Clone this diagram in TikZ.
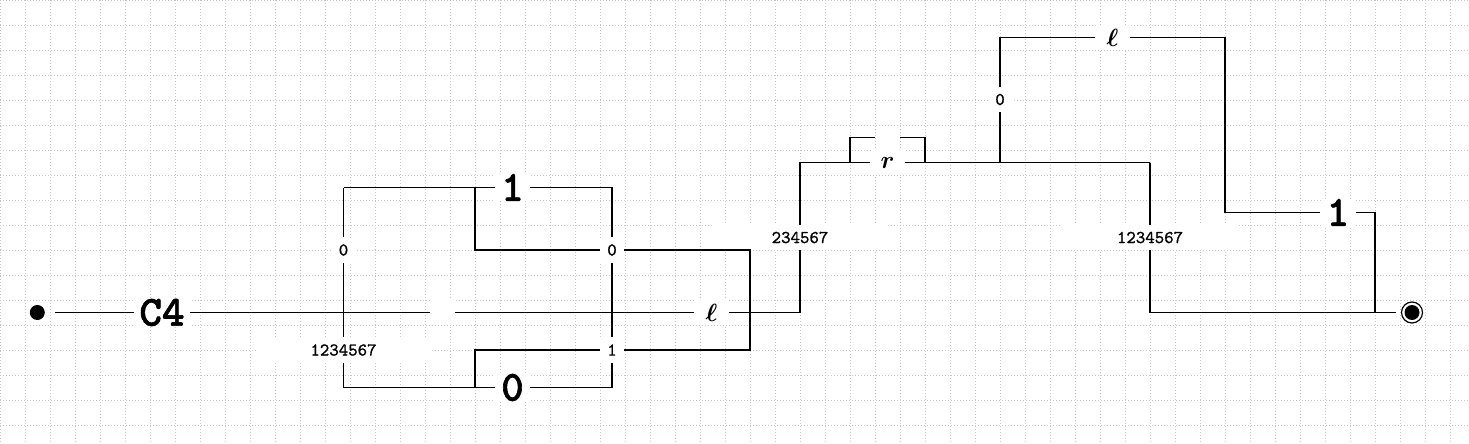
\documentclass[tikz,border=0pt]{standalone}
\usepackage{fontspec}
\newfontfamily\bigttfont{lmmonolt10-bold.otf}[FakeBold=1.5]
\newfontfamily\smallttfont{lmmono10-regular.otf}[FakeBold=1]
\begin{document}
\begin{tikzpicture}[x=1pt,y=-1pt,
  gridline/.style={draw=black!22, line width=1pt, dash pattern=on 1pt off 2pt},
  wire/.style={line width=1.3pt},
  lab/.style={fill=white, inner sep=0pt, minimum width=24pt, minimum height=25pt, font={\fontsize{18}{20}\selectfont\smallttfont}},
  widelab/.style={lab, minimum width=176pt},
  bigl/.style={fill=white, inner sep=0pt, minimum width=35pt, minimum height=25pt, font={\fontsize{43}{48}\selectfont\bigttfont}},
  syml/.style={fill=white, inner sep=0pt, minimum width=34pt, minimum height=25pt, font={\fontsize{28}{30}\selectfont\boldmath}},
  startdot/.style={circle, fill=black, inner sep=0pt, minimum size=15pt},
  enddot/.style={circle, draw, line width=1.2pt, inner sep=0pt, minimum size=21pt,
    path picture={\fill (path picture bounding box.center) circle[radius=7.5pt];}},
]
\useasboundingbox (0,0) rectangle (1469,444);
\fill[white] (0,0) rectangle (1469,444);
% grid (25 units)
\foreach \x in {0,25,...,1450} \draw[gridline] (\x+0.5,0) -- (\x+0.5,444);
\foreach \y in {0,25,...,425} \draw[gridline] (0,\y+0.5) -- (1469,\y+0.5);

% nodes
\node[startdot] (start) at (37.3,312.5) {};
\node[bigl, minimum width=55pt] (c4) at (162,312.5) {C4};
\node[fill=white, inner sep=0pt, minimum width=25pt, minimum height=25pt] (e1) at (442.5,312.5) {};
\node[syml] (l1) at (711.5,312.5) {$\ell$};
\node[widelab] (lab234) at (800,237.5) {234567};
\node[syml] (r) at (887.5,162.5) {$r$};
\node[lab] (lab0t) at (1000,99.5) {0};
\node[syml] (l2) at (1112.5,37.5) {$\ell$};
\node[bigl] (one2) at (1338,212.5) {1};
\node[widelab] (lab1234r) at (1150,237.5) {1234567};
\node[enddot] (end) at (1412,312.5) {};

\node[lab] (lab0a) at (343.5,250) {0};
\node[widelab] (lab1234l) at (343.5,350) {1234567};
\node[bigl] (one1) at (512.5,187.5) {1};
\node[bigl] (zero) at (512.5,387.5) {0};
\node[lab] (lab0b) at (612,250) {0};
\node[lab] (lab1b) at (612,350) {1};

% coordinates
\coordinate (p1) at (800,312.5);
\coordinate (p2) at (800,162.5);
\coordinate (b1) at (850,162.5);
\coordinate (b2) at (850,137.5);
\coordinate (bl) at (875,137.5);
\coordinate (br) at (900,137.5);
\coordinate (b3) at (925,137.5);
\coordinate (b4) at (925,162.5);
\coordinate (j1) at (1000,162.5);
\coordinate (j2) at (1150,162.5);
\coordinate (t1) at (1000,37.5);
\coordinate (t2) at (1225,37.5);
\coordinate (t3) at (1225,212.5);
\coordinate (t4) at (1375,212.5);
\coordinate (t5) at (1375,312.5);
\coordinate (q1) at (1150,312.5);
\coordinate (a1) at (343.5,187.5);
\coordinate (a2) at (343.5,387.5);
\coordinate (d1) at (612,187.5);
\coordinate (d2) at (612,387.5);
\coordinate (m1) at (475,187.5);
\coordinate (m2) at (475,250);
\coordinate (m3) at (750,250);
\coordinate (m4) at (750,350);
\coordinate (m5) at (475,350);
\coordinate (m6) at (475,387.5);

% main line
\draw[wire, shorten <=10pt] (start) -- (c4);
\draw[wire] (c4) -- (e1);
\draw[wire] (e1) -- (l1);
\draw[wire] (l1) -- (p1) -- (lab234);
\draw[wire] (lab234) -- (p2) -- (r);
\draw[wire] (b1) -- (b2) -- (bl);
\draw[wire] (br) -- (b3) -- (b4);
\draw[wire] (r) -- (j2);
\draw[wire] (j1) -- (lab0t);
\draw[wire] (lab0t) -- (t1) -- (l2);
\draw[wire] (l2) -- (t2) -- (t3) -- (one2);
\draw[wire] (one2) -- (t4) -- (t5);
\draw[wire] (j2) -- (lab1234r);
\draw[wire, shorten >=5pt] (lab1234r) -- (q1) -- (end);

% left block
\draw[wire] (a1) -- (lab0a);
\draw[wire] (lab0a) -- (lab1234l);
\draw[wire] (lab1234l) -- (a2) -- (zero);
\draw[wire] (a1) -- (one1);
\draw[wire] (one1) -- (d1) -- (lab0b);
\draw[wire] (lab0b) -- (lab1b);
\draw[wire] (lab1b) -- (d2) -- (zero);
\draw[wire] (m1) -- (m2) -- (lab0b);
\draw[wire] (lab0b) -- (m3) -- (m4) -- (lab1b);
\draw[wire] (lab1b) -- (m5) -- (m6);
\end{tikzpicture}
\end{document}
